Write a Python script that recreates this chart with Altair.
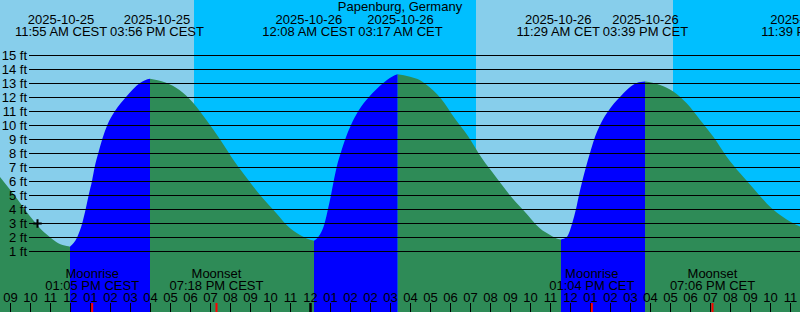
import altair as alt
import pandas as pd

TITLE = "Papenburg, Germany"
FONT = "Liberation Sans"

# time axis: hours since 2025-10-25 09:00 CEST (07:00 UTC)
X_DOMAIN = [-0.525, 39.475]
Y_DOMAIN = [-47 / 14, 265 / 14]

# tide curve, one list per rising/falling stretch
seg_t = [
    [-0.53, 0.31, 0.73, 1.14, 1.56, 1.98, 2.39, 2.81, 2.98],
    [2.975, 3.34, 3.59, 3.76, 3.91, 4.075, 4.21, 4.39, 4.59, 4.84, 5.225, 5.775, 6.475, 6.725, 6.975],
    [6.975, 7.75, 8.43, 9.13, 9.83, 10.48, 11.2, 11.88, 12.53, 13.28, 13.98, 14.64, 14.98, 15.175],
    [15.175, 15.39, 15.71, 15.875, 16.025, 16.16, 16.31, 16.51, 16.74, 17.025, 17.39, 17.925, 18.64, 19.075, 19.35],
    [19.35, 19.98, 20.48, 20.78, 21.53, 22.18, 22.88, 23.58, 24.28, 24.93, 25.68, 26.48, 26.98, 27.38, 27.525],
    [27.525, 27.81, 28.09, 28.275, 28.425, 28.59, 28.775, 28.975, 29.19, 29.475, 29.89, 30.475, 31.31, 31.725],
    [31.725, 32.48, 33.14, 33.81, 34.48, 35.14, 35.81, 36.48, 37.14, 37.81, 38.48, 39.14, 39.48, 39.73],
]
seg_h = [
    [6.3, 4.76, 3.93, 3.2, 2.5, 1.98, 1.55, 1.36, 1.31],
    [1.31, 2.0, 3.0, 4.0, 5.0, 6.0, 7.0, 8.0, 9.0, 10.0, 11.0, 12.0, 13.0, 13.2, 13.3],
    [13.3, 13.03, 12.52, 11.59, 10.28, 8.96, 7.39, 6.09, 4.91, 3.72, 2.62, 2.02, 1.8, 1.74],
    [1.74, 2.0, 3.0, 4.0, 5.0, 6.0, 7.0, 8.0, 9.0, 10.0, 11.0, 12.0, 13.0, 13.45, 13.62],
    [13.62, 13.45, 13.2, 12.9, 11.88, 10.54, 9.2, 7.6, 6.27, 5.06, 3.85, 2.6, 2.14, 1.86, 1.83],
    [1.83, 2.0, 3.0, 4.0, 5.0, 6.0, 7.0, 8.0, 9.0, 10.0, 11.0, 12.0, 13.0, 13.1],
    [13.1, 12.86, 12.4, 11.55, 10.36, 9.16, 7.74, 6.55, 5.48, 4.4, 3.57, 2.98, 2.74, 2.62],
]
seg_dir = ["fall", "rise", "fall", "rise", "fall", "rise", "fall"]

# tide events (top labels)
tide_t = [2.917, 6.933, 15.133, 19.283, 27.483, 31.65, 39.65]
tide_dates = ["2025-10-25", "2025-10-25", "2025-10-26", "2025-10-26",
              "2025-10-26", "2025-10-26", "2025-10-26"]
tide_times = ["11:55 AM CEST", "03:56 PM CEST", "12:08 AM CEST", "03:17 AM CET",
              "11:29 AM CET", "03:39 PM CET", "11:39 PM CET"]

# moon events
moon_t = [4.083, 10.3, 29.067, 35.1]
moon_kind = ["Moonrise", "Moonset", "Moonrise", "Moonset"]
moon_times = ["01:05 PM CEST", "07:18 PM CEST", "01:04 PM CET", "07:06 PM CET"]

# sun events (night shading)
sun_t = [9.175, 23.275, 33.125]

# hour tick labels (local time, DST ends 2025-10-26)
hour_labels = ["09", "10", "11", "12", "01", "02", "03", "04", "05", "06", "07", "08",
               "09", "10", "11", "12", "01", "02", "02", "03", "04", "05", "06", "07",
               "08", "09", "10", "11", "12", "01", "02", "03", "04", "05", "06", "07",
               "08", "09", "10", "11"]
midnight_t = [15]

levels = list(range(1, 16))

now_t = [1.35]
now_h = [2.96]

W, H = 800, 312
DAY, NIGHT = "#87CEEB", "#00BFFF"
GREEN, BLUE = "#2E8B57", "#0000FF"

xs = alt.Scale(domain=X_DOMAIN, nice=False, zero=False)
ys = alt.Scale(domain=Y_DOMAIN, nice=False, zero=False)


def X(f):
    return alt.X(f"{f}:Q", scale=xs, axis=None)


def Y(f):
    return alt.Y(f"{f}:Q", scale=ys, axis=None)


# background bands
edges = [X_DOMAIN[0]] + sun_t + [X_DOMAIN[1]]
bands = pd.DataFrame({
    "a": edges[:-1], "b": edges[1:],
    "fill": [DAY if i % 2 == 0 else NIGHT for i in range(len(edges) - 1)],
})
bg = alt.Chart(bands).mark_rect().encode(
    x=X("a"), x2="b", y=alt.value(0), y2=alt.value(H),
    color=alt.Color("fill:N", scale=None))

rows = []
for i, (ts, hs) in enumerate(zip(seg_t, seg_h)):
    for t, h in zip(ts, hs):
        rows.append({"seg": i, "dir": seg_dir[i], "t": t, "h": h, "base": Y_DOMAIN[0]})
curve = pd.DataFrame(rows)

green = alt.Chart(curve[curve["dir"] == "fall"]).mark_area(
    color=GREEN, interpolate="monotone", clip=True).encode(
    x=X("t"), y=Y("h"), y2="base:Q", detail="seg:N")
blue = alt.Chart(curve[curve["dir"] == "rise"]).mark_area(
    color=BLUE, interpolate="monotone", clip=True).encode(
    x=X("t"), y=Y("h"), y2="base:Q", detail="seg:N")

lv = pd.DataFrame({"level": levels, "lab": [f"{v} ft" for v in levels]})
grid = alt.Chart(lv).mark_rule(color="black", strokeWidth=1, yOffset=0.5).encode(
    x=alt.value(29), x2=alt.value(W), y=Y("level"))
ylab = alt.Chart(lv).mark_text(align="right", baseline="middle", font=FONT, fontSize=13,
                               color="black", yOffset=0.5).encode(
    x=alt.value(27), y=Y("level"), text="lab:N")

hours = pd.DataFrame({"t": list(range(len(hour_labels))), "lab": hour_labels})
ticks = alt.Chart(hours).mark_rule(color="black", strokeWidth=1).encode(
    x=X("t"), y=alt.value(303), y2=alt.value(H))
mid = alt.Chart(pd.DataFrame({"t": midnight_t})).mark_rule(color="black", strokeWidth=2.5).encode(
    x=X("t"), y=alt.value(303), y2=alt.value(H))
moondf = pd.DataFrame({"t": moon_t, "kind": moon_kind, "time": moon_times})
redticks = alt.Chart(moondf).mark_rule(color="#FF0000", strokeWidth=2).encode(
    x=X("t"), y=alt.value(303), y2=alt.value(H))
hlab = alt.Chart(hours).mark_text(align="center", baseline="alphabetic", font=FONT,
                                  fontSize=13, color="black", y=302).encode(
    x=X("t"), text="lab:N")

moon1 = alt.Chart(moondf).mark_text(align="center", baseline="alphabetic", font=FONT,
                                    fontSize=13, color="black", y=278).encode(
    x=X("t"), text="kind:N")
moon2 = alt.Chart(moondf).mark_text(align="center", baseline="alphabetic", font=FONT,
                                    fontSize=13, color="black", y=290).encode(
    x=X("t"), text="time:N")

# spread overlapping tide labels apart
CW = {":": 3.61, " ": 3.61, "A": 8.67, "P": 8.67, "M": 10.83, "C": 9.39,
      "E": 8.67, "S": 8.67, "T": 7.94}


def text_w(s):
    return sum(CW.get(c, 7.23) for c in s)


pxh = W / (X_DOMAIN[1] - X_DOMAIN[0])
cx = [t * pxh for t in tide_t]
for i in range(len(cx) - 1):
    need = (text_w(tide_times[i]) + text_w(tide_times[i + 1])) / 2 + 2
    gap = cx[i + 1] - cx[i]
    if gap < need:
        s = (need - gap) / 2
        cx[i] -= s
        cx[i + 1] += s
tidedf = pd.DataFrame({"t": [c / pxh for c in cx], "date": tide_dates, "time": tide_times})
top1 = alt.Chart(tidedf).mark_text(align="center", baseline="alphabetic", font=FONT,
                                   fontSize=13, color="black", y=24).encode(
    x=X("t"), text="date:N")
top2 = alt.Chart(tidedf).mark_text(align="center", baseline="alphabetic", font=FONT,
                                   fontSize=13, color="black", y=36).encode(
    x=X("t"), text="time:N")

title = alt.Chart(pd.DataFrame({"lab": [TITLE]})).mark_text(
    align="center", baseline="alphabetic", font=FONT, fontSize=13, color="black").encode(
    x=alt.value(W / 2), y=alt.value(11), text="lab:N")

now = alt.Chart(pd.DataFrame({"t": now_t, "h": now_h})).mark_point(
    shape="M-1,0H1M0,-1V1", size=72, filled=False, stroke="black", strokeWidth=2,
    opacity=1).encode(x=X("t"), y=Y("h"))

chart = alt.layer(bg, green, blue, grid, ylab, ticks, mid, redticks, hlab,
                  moon1, moon2, top1, top2, title, now).properties(
    width=W, height=H, autosize="none", padding=0
).configure_view(stroke=None)

chart.save("out.html", embed_options={"renderer": "svg", "actions": False})
